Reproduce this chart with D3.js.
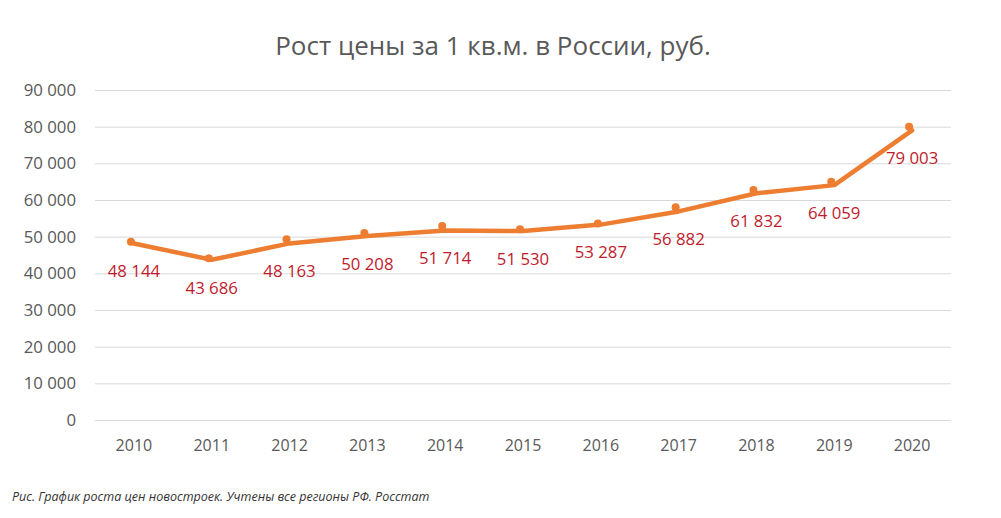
<!DOCTYPE html>
<html>
<head>
<meta charset="utf-8">
<script src="https://cdn.jsdelivr.net/npm/d3@7"></script>
<style>
  body { margin: 0; background: #fff; }
  svg text { font-family: "Open Sans", sans-serif; }
</style>
</head>
<body>
<div id="chart"></div>
<script>
// Données
const years = ["2010", "2011", "2012", "2013", "2014", "2015", "2016", "2017", "2018", "2019", "2020"];
const prices = [48144, 43686, 48163, 50208, 51714, 51530, 53287, 56882, 61832, 64059, 79003];
// points des marqueurs (légèrement au-dessus de la ligne sur l'image)
const markers = [48600, 44100, 49300, 51000, 52900, 52000, 53600, 58000, 62700, 65000, 80000];
const yTicks = [0, 10000, 20000, 30000, 40000, 50000, 60000, 70000, 80000, 90000];

const width = 1001, height = 518;

const svg = d3.select("#chart")
  .append("svg")
    .attr("width", width)
    .attr("height", height);

const x = d3.scaleBand()
  .domain(years)
  .range([95, 951]);

const y = d3.scaleLinear()
  .domain([0, 90000])
  .range([420, 90]);

const fmt = v => d3.format(",")(v).replace(/,/g, " ");

// Titre
svg.append("text")
  .attr("x", 493)
  .attr("y", 55)
  .attr("text-anchor", "middle")
  .style("font-size", "26px")
  .style("fill", "#595959")
  .text("Рост цены за 1 кв.м. в России, руб.");

// Axe Y avec lignes de grille
const yAxis = svg.append("g")
  .attr("transform", "translate(95,0)")
  .call(d3.axisLeft(y).tickValues(yTicks).tickFormat(fmt).tickSize(-856).tickPadding(19));
yAxis.select(".domain").remove();
yAxis.selectAll("line").attr("stroke", "#d9d9d9").attr("stroke-width", 1);
yAxis.selectAll("text").style("font-size", "16.8px").style("fill", "#595959");

// Axe X
const xAxis = svg.append("g")
  .attr("transform", "translate(0,420)")
  .call(d3.axisBottom(x).tickSize(0).tickPadding(20));
xAxis.select(".domain").remove();
xAxis.selectAll("text").style("font-size", "16px").style("fill", "#595959");

const cx = d => x(d) + x.bandwidth() / 2;

// Ligne
const line = d3.line()
  .x((d, i) => cx(years[i]))
  .y(d => y(d));

svg.append("path")
  .datum(prices)
  .attr("fill", "none")
  .attr("stroke", "#ed7d31")
  .attr("stroke-width", 4.5)
  .attr("stroke-linejoin", "round")
  .attr("stroke-linecap", "round")
  .attr("d", line);

// Marqueurs
svg.append("g")
  .attr("transform", "translate(-3,0)")
  .selectAll("circle")
  .data(markers)
  .join("circle")
    .attr("cx", (d, i) => cx(years[i]))
    .attr("cy", d => y(d))
    .attr("r", 4)
    .attr("fill", "#ed7d31");

// Étiquettes des valeurs
svg.append("g")
  .selectAll("text")
  .data(prices)
  .join("text")
    .attr("x", (d, i) => cx(years[i]))
    .attr("y", d => y(d) + 28)
    .attr("dy", "0.35em")
    .attr("text-anchor", "middle")
    .style("font-size", "16.8px")
    .style("fill", "#bf1b2c")
    .text(d => fmt(d));

// Légende de la figure
svg.append("text")
  .attr("x", 12)
  .attr("y", 501)
  .style("font-size", "12.5px")
  .style("font-style", "italic")
  .style("fill", "#333")
  .text("Рис. График роста цен новостроек. Учтены все регионы РФ. Росстат");
</script>
</body>
</html>
